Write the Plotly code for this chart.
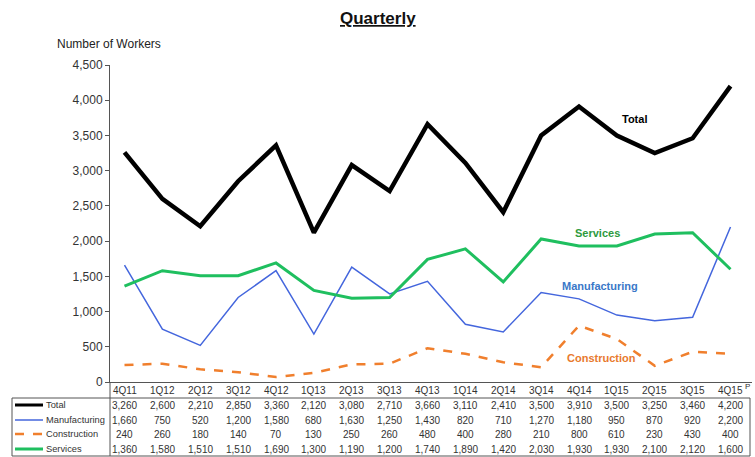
import plotly.graph_objects as go

quarters = ["4Q11", "1Q12", "2Q12", "3Q12", "4Q12", "1Q13", "2Q13", "3Q13", "4Q13",
            "1Q14", "2Q14", "3Q14", "4Q14", "1Q15", "2Q15", "3Q15", "4Q15"]
total = [3260, 2600, 2210, 2850, 3360, 2120, 3080, 2710, 3660,
         3110, 2410, 3500, 3910, 3500, 3250, 3460, 4200]
manufacturing = [1660, 750, 520, 1200, 1580, 680, 1630, 1250, 1430,
                 820, 710, 1270, 1180, 950, 870, 920, 2200]
construction = [240, 260, 180, 140, 70, 130, 250, 260, 480,
                400, 280, 210, 800, 610, 230, 430, 400]
services = [1360, 1580, 1510, 1510, 1690, 1300, 1190, 1200, 1740,
            1890, 1420, 2030, 1930, 1930, 2100, 2120, 1600]

W, H = 755, 457
L, R, T, B = 110, 3, 65, 75
pw = W - L - R
ph = H - T - B

def px_x(px):
    return (px - L) / pw

def px_y(py):
    return (H - B - py) / ph

series = [
    ("Total", total, dict(color="#000000", width=4.5)),
    ("Manufacturing", manufacturing, dict(color="#4466dd", width=1.5)),
    ("Construction", construction, dict(color="#f07f2d", width=2.5, dash="dash")),
    ("Services", services, dict(color="#1fbf5f", width=3)),
]

fig = go.Figure()
for name, vals, line in series:
    fig.add_trace(go.Scatter(x=quarters, y=vals, mode="lines", name=name,
                             line=line, showlegend=False, cliponaxis=False))

font = "Liberation Sans, Arial, sans-serif"
ann = []
# title
ann.append(dict(text="<b><u>Quarterly</u></b>", x=px_x(378), y=px_y(18), xref="paper", yref="paper",
                showarrow=False, font=dict(size=17, family=font, color="#111"),
                xanchor="center", yanchor="middle"))
ann.append(dict(text="Number of Workers", x=px_x(55), y=px_y(44), xref="paper", yref="paper",
                showarrow=False, font=dict(size=12, family=font, color="#222"),
                xanchor="left", yanchor="middle"))
# series labels
labels = [("Total", 13.46, 3733, "#000000"),
          ("Services", 12.48, 2115, "#2e9a3e"),
          ("Manufacturing", 12.56, 1363, "#3a78c8"),
          ("Construction", 12.6, 341, "#e87a2e")]
for txt, xi, yv, col in labels:
    ann.append(dict(text="<b>" + txt + "</b>", x=xi, y=yv, xref="x", yref="y", showarrow=False,
                    font=dict(size=11, family=font, color=col), xanchor="center", yanchor="middle"))

# table rows
row_py = [405, 420, 434, 449]
for (name, vals, line), py in zip(series, row_py):
    for q, v in zip(quarters, vals):
        ann.append(dict(text=f"{v:,}", x=q, y=px_y(py), xref="x", yref="paper", showarrow=False,
                        font=dict(size=10, family=font, color="#333"), xanchor="center", yanchor="middle"))
    ann.append(dict(text=name, x=px_x(44), y=px_y(py), xref="paper", yref="paper", showarrow=False,
                    font=dict(size=9.3, family=font, color="#333"), xanchor="left", yanchor="middle"))
# category row
for q in quarters:
    ann.append(dict(text=q, x=q, y=px_y(390), xref="x", yref="paper", showarrow=False,
                    font=dict(size=10, family=font, color="#333"), xanchor="center", yanchor="middle"))
ann.append(dict(text="P", x=quarters[-1], y=px_y(386), xref="x", yref="paper", showarrow=False,
                xshift=17, font=dict(size=8, family=font, color="#333"), xanchor="center", yanchor="middle"))

shapes = []
lc = "#555"
# table box
shapes.append(dict(type="rect", xref="paper", yref="paper", x0=px_x(12), x1=px_x(750),
                   y0=px_y(456), y1=px_y(398), line=dict(color=lc, width=1)))
# vertical separator / axis extension
shapes.append(dict(type="line", xref="paper", yref="paper", x0=0, x1=0,
                   y0=px_y(456), y1=0, line=dict(color=lc, width=1)))
# legend samples
for (name, vals, line), py in zip(series, row_py):
    shapes.append(dict(type="line", xref="paper", yref="paper", x0=px_x(15), x1=px_x(43),
                       y0=px_y(py), y1=px_y(py),
                       line=dict(color=line["color"], width=min(line["width"], 3),
                                 dash=line.get("dash", "solid"))))

fig.update_layout(
    width=W, height=H, margin=dict(l=L, r=R, t=T, b=B),
    plot_bgcolor="white", paper_bgcolor="white",
    annotations=ann, shapes=shapes,
    xaxis=dict(type="category", showticklabels=False, showline=True, linecolor=lc, linewidth=1,
               ticks="", showgrid=False, zeroline=False),
    yaxis=dict(range=[0, 4500], dtick=500, tickformat=",", ticks="outside", ticklen=4,
               tickcolor=lc, showline=True, linecolor=lc, linewidth=1, showgrid=False,
               zeroline=False, tickfont=dict(size=12, family=font, color="#333")),
)

fig.write_html("out.html")
